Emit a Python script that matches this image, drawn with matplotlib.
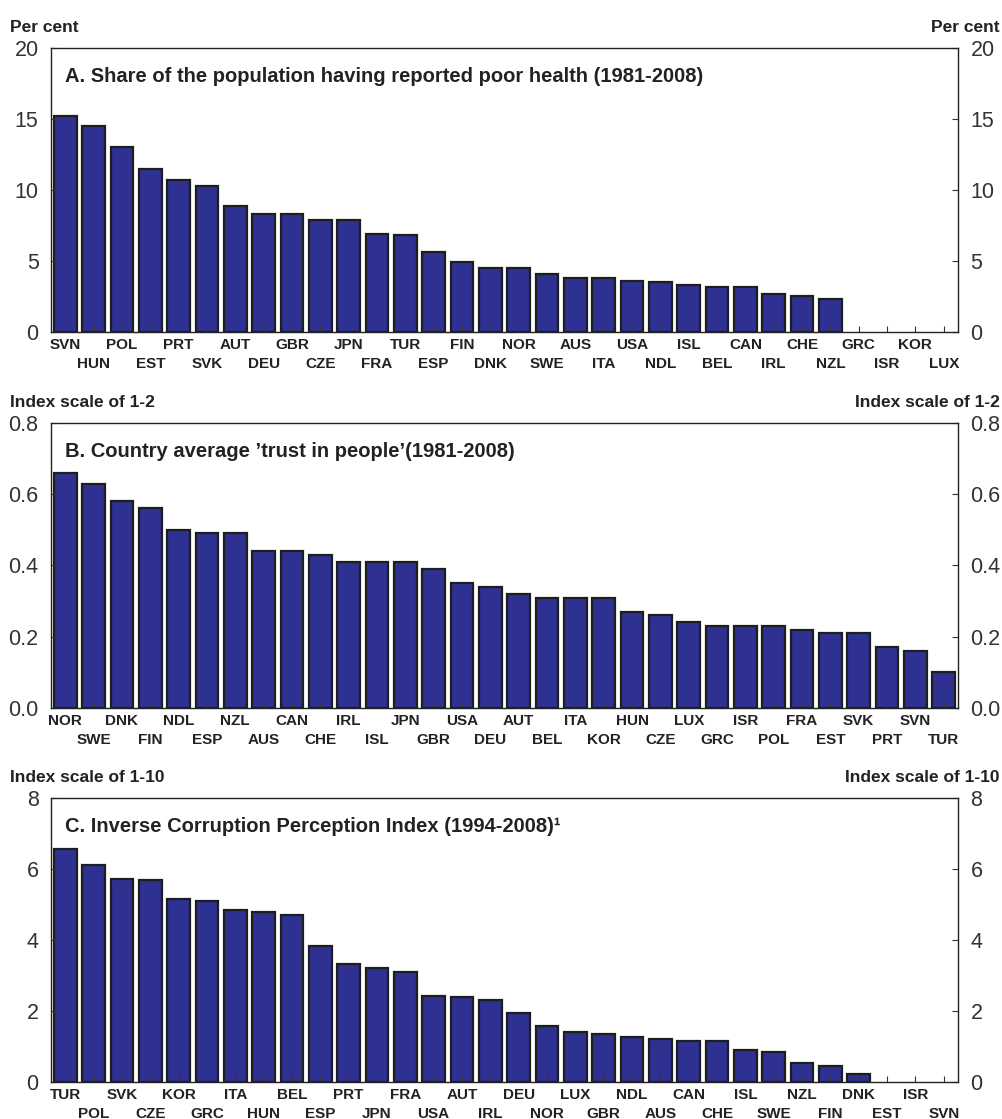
import matplotlib
matplotlib.use('Agg')
import matplotlib.pyplot as plt
import numpy as np

plt.rcParams['font.family'] = ['Liberation Sans', 'DejaVu Sans']

#%% data
health_countries = ['SVN', 'HUN', 'POL', 'EST', 'PRT', 'SVK', 'AUT', 'DEU', 'GBR', 'CZE',
                    'JPN', 'FRA', 'TUR', 'ESP', 'FIN', 'DNK', 'NOR', 'SWE', 'AUS', 'ITA',
                    'USA', 'NDL', 'ISL', 'BEL', 'CAN', 'IRL', 'CHE', 'NZL', 'GRC', 'ISR',
                    'KOR', 'LUX']
health_values = [15.2, 14.5, 13.0, 11.5, 10.7, 10.3, 8.9, 8.3, 8.3, 7.9,
                 7.9, 6.9, 6.8, 5.6, 4.9, 4.5, 4.5, 4.1, 3.8, 3.8,
                 3.6, 3.5, 3.3, 3.2, 3.2, 2.7, 2.5, 2.3, 0, 0,
                 0, 0]

trust_countries = ['NOR', 'SWE', 'DNK', 'FIN', 'NDL', 'ESP', 'NZL', 'AUS', 'CAN', 'CHE',
                   'IRL', 'ISL', 'JPN', 'GBR', 'USA', 'DEU', 'AUT', 'BEL', 'ITA', 'KOR',
                   'HUN', 'CZE', 'LUX', 'GRC', 'ISR', 'POL', 'FRA', 'EST', 'SVK', 'PRT',
                   'SVN', 'TUR']
trust_values = [0.66, 0.63, 0.58, 0.56, 0.50, 0.49, 0.49, 0.44, 0.44, 0.43,
                0.41, 0.41, 0.41, 0.39, 0.35, 0.34, 0.32, 0.31, 0.31, 0.31,
                0.27, 0.26, 0.24, 0.23, 0.23, 0.23, 0.22, 0.21, 0.21, 0.17,
                0.16, 0.10]

corr_countries = ['TUR', 'POL', 'SVK', 'CZE', 'KOR', 'GRC', 'ITA', 'HUN', 'BEL', 'ESP',
                  'PRT', 'JPN', 'FRA', 'USA', 'AUT', 'IRL', 'DEU', 'NOR', 'LUX', 'GBR',
                  'NDL', 'AUS', 'CAN', 'CHE', 'ISL', 'SWE', 'NZL', 'FIN', 'DNK', 'EST',
                  'ISR', 'SVN']
corr_values = [6.55, 6.12, 5.73, 5.69, 5.16, 5.11, 4.85, 4.80, 4.69, 3.83,
               3.31, 3.22, 3.10, 2.43, 2.38, 2.30, 1.94, 1.59, 1.40, 1.36,
               1.26, 1.20, 1.16, 1.15, 0.89, 0.85, 0.54, 0.46, 0.22, 0,
               0, 0]

panels = [
    ('A. Share of the population having reported poor health (1981-2008)', 'Per cent',
     health_countries, health_values, [0, 5, 10, 15, 20], '%d'),
    ("B. Country average \u2019trust in people\u2019(1981-2008)", 'Index scale of 1-2',
     trust_countries, trust_values, [0.0, 0.2, 0.4, 0.6, 0.8], '%.1f'),
    ('C. Inverse Corruption Perception Index (1994-2008)\u00b9', 'Index scale of 1-10',
     corr_countries, corr_values, [0, 2, 4, 6, 8], '%d'),
]

bar_col = '#2E3192'
edge_col = '#1E1E1E'
txt_col = '#333333'

fig = plt.figure(figsize=(10.02, 11.19), dpi=100)
# axes boxes in figure fractions (left, bottom, width, height)
boxes = [(0.051, 0.7033, 0.905, 0.254),
         (0.051, 0.3673, 0.905, 0.2547),
         (0.051, 0.0331, 0.905, 0.2538)]

for box, (title, unit, cats, vals, yt, fmt) in zip(boxes, panels):
    ax = fig.add_axes(box)
    x = np.arange(len(cats))
    v = np.array(vals, dtype=float)
    mask = v > 0
    ax.bar(x[mask], v[mask], width=0.8, color=bar_col, edgecolor=edge_col, linewidth=1.6)
    ax.set_xlim(-0.5, len(cats) - 0.5)
    ax.set_ylim(yt[0], yt[-1])
    ax.set_yticks(yt)
    ax.set_yticklabels([fmt % t for t in yt])
    # even labels on the first row (major ticks), odd ones on the second row (minor ticks)
    ax.set_xticks(x[::2])
    ax.set_xticklabels(cats[::2])
    ax.set_xticks(x[1::2], minor=True)
    ax.set_xticklabels(cats[1::2], minor=True)
    for lab in ax.get_xticklabels(which='both'):
        lab.set_fontweight('bold')
        lab.set_fontsize(11)
        lab.set_color('#222222')
    ax.tick_params(axis='x', which='major', direction='in', length=4, width=0.8,
                   color='#333333', pad=4)
    ax.tick_params(axis='x', which='minor', direction='in', length=4, width=0.8,
                   color='#333333', pad=18)
    ax.tick_params(axis='y', direction='in', length=4, width=0.8, color='#333333',
                   left=True, right=True, labelleft=True, labelright=True,
                   labelsize=15.5, labelcolor=txt_col, pad=9)
    for s in ax.spines.values():
        s.set_linewidth(1.0)
        s.set_color('#222222')
    ax.text(0.0155, 0.9, title, transform=ax.transAxes, fontsize=14.5, fontweight='bold',
            color='#222222', va='center', ha='left')
    # unit labels above the axis on both sides
    ax.text(-0.045, 1.055, unit, transform=ax.transAxes, fontsize=12.5, fontweight='bold',
            color='#222222', ha='left', va='baseline')
    ax.text(1.046, 1.055, unit, transform=ax.transAxes, fontsize=12.5, fontweight='bold',
            color='#222222', ha='right', va='baseline')

fig.savefig('out.png', dpi=100)
